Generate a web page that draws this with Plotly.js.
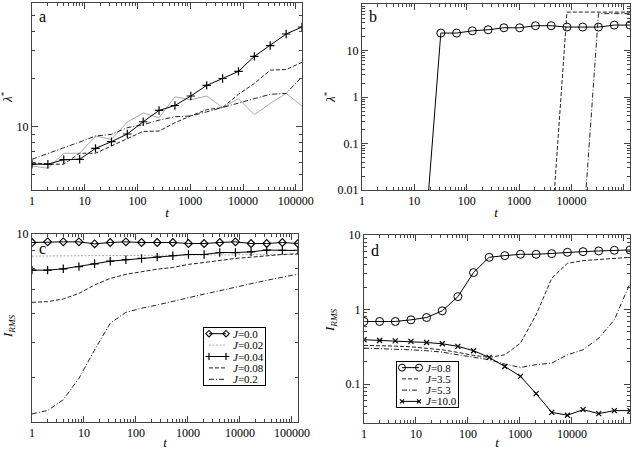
<!DOCTYPE html>
<html>
<head>
<meta charset="utf-8">
<script src="https://cdn.plot.ly/plotly-3.0.1.min.js"></script>
<style>html,body{margin:0;padding:0;background:#fff}#plot{width:638px;height:450px}</style>
</head>
<body>
<div id="plot"></div>
<script>
// time steps (t = 2^k)
const T = [1,2,4,8,16,32,64,128,256,512,1024,2048,4096,8192,16384,32768,65536,131072];

// Panel a: lambda* vs t
const aJ002 = [5.67,5.48,6.81,6.81,8.74,8.33,10.7,12.2,11.4,15.4,14.8,15.6,13.2,15.0,11.9,14.0,16.2,13.5];
const aJ004 = [5.81,5.81,6.21,6.24,7.31,8.05,9.0,10.75,12.66,13.6,15.6,18.2,20.1,22.3,27.7,32.4,38.3,42.4];
const aJ008 = [5.95,5.81,5.81,6.81,6.81,7.57,8.33,9.35,9.39,10.6,11.7,12.8,13.2,16.0,18.7,22.7,22.9,25.4];
const aJ02  = [6.24,6.81,7.38,8.01,8.74,8.95,9.86,10.3,11.0,11.55,11.7,12.4,13.2,14.0,15.0,16.0,16.2,20.6];

// Panel b: lambda* vs t (0.001 = no structure, below axis)
const bJ08  = [0.001,0.001,0.001,0.001,0.001,23.7,23.7,26.5,27.9,30.8,30.8,34.1,34.1,31.9,31.9,31.9,35.2,35.2];
const bJ35  = [0.001,0.001,0.001,0.001,0.001,0.001,0.001,0.001,0.001,0.001,0.001,0.001,0.001,67,67,67,67,67];
const bJ53  = [0.001,0.001,0.001,0.001,0.001,0.001,0.001,0.001,0.001,0.001,0.001,0.001,0.001,0.001,0.001,62,62,62];

// Panel c: I_RMS vs t
const cJ00  = [9.48,9.52,9.52,9.52,9.40,9.48,9.52,9.48,9.48,9.48,9.42,9.42,9.48,9.52,9.42,9.42,9.48,9.42];
const cJ002 = [8.69,8.69,8.69,8.71,8.71,8.71,8.73,8.73,8.74,8.74,8.76,8.76,8.76,8.78,8.78,8.78,8.78,8.78];
const cJ004 = [7.94,7.94,8.01,8.12,8.27,8.41,8.49,8.56,8.63,8.71,8.78,8.78,8.89,8.89,8.93,9.03,9.01,9.01];
const cJ008 = [6.46,6.49,6.60,6.84,7.22,7.53,7.73,7.86,7.99,8.08,8.24,8.34,8.45,8.56,8.63,8.71,8.78,8.82];
const cJ02  = [3.16,3.23,3.46,3.97,4.76,5.65,6.06,6.22,6.35,6.51,6.67,6.81,6.96,7.13,7.28,7.44,7.60,7.74];

// Panel d: I_RMS vs t
const dJ08  = [0.691,0.691,0.691,0.727,0.781,0.96,1.49,3.13,5.02,5.29,5.51,5.51,5.62,5.86,5.98,6.11,6.23,6.30];
const dJ35  = [0.33,0.33,0.323,0.316,0.303,0.288,0.266,0.242,0.228,0.247,0.354,0.848,2.63,4.17,4.53,4.67,4.77,5.02];
const dJ53  = [0.303,0.300,0.294,0.288,0.280,0.268,0.247,0.228,0.212,0.185,0.167,0.182,0.191,0.247,0.288,0.413,0.727,2.25];
const dJ10  = [0.393,0.384,0.380,0.373,0.361,0.347,0.320,0.280,0.228,0.172,0.127,0.0742,0.0417,0.0381,0.0453,0.0401,0.0440,0.0440];

const legendC = ['<i>J</i>=0.0','<i>J</i>=0.02','<i>J</i>=0.04','<i>J</i>=0.08','<i>J</i>=0.2'];
const legendD = ['<i>J</i>=0.8','<i>J</i>=3.5','<i>J</i>=5.3','<i>J</i>=10.0'];

const W = 638, H = 450;
const SERIF = 'Liberation Serif';
const BLACK = '#000', GRAY = '#aaaaaa';

function tr(x, y, xa, ya, line, marker) {
  const t = {x: x, y: y, xaxis: xa, yaxis: ya, type: 'scatter',
    mode: marker ? 'lines+markers' : 'lines', line: line, showlegend: false, hoverinfo: 'skip'};
  if (marker) t.marker = marker;
  return t;
}
const solid = {color: BLACK, width: 1};
const dotted = {color: GRAY, width: 1, dash: '2px,1.5px'};
const dashed = {color: '#222', width: 1, dash: '4px,2px'};
const dashdot = {color: '#222', width: 1, dash: '5px,2px,1px,2px'};
const plus = {symbol: 'cross-thin-open', size: 6, color: BLACK, line: {color: BLACK, width: 1.2}};
const diamond = {symbol: 'diamond-open', size: 6, color: BLACK, line: {color: BLACK, width: 1.1}};
const circ = {symbol: 'circle-open', size: 8, color: BLACK, line: {color: BLACK, width: 1}};
const cross = {symbol: 'x-thin-open', size: 5, color: BLACK, line: {color: BLACK, width: 1.2}};

const cStyles = [[solid, diamond], [dotted, null], [solid, plus], [dashed, null], [dashdot, null]];
const dStyles = [[solid, circ], [dashed, null], [dashdot, null], [solid, cross]];

const data = [
  tr(T, aJ002, 'x', 'y', {color: GRAY, width: 1}),
  tr(T, aJ008, 'x', 'y', dashed),
  tr(T, aJ02, 'x', 'y', dashdot),
  tr(T, aJ004, 'x', 'y', solid, plus),

  tr(T, bJ35, 'x2', 'y2', dashed),
  tr(T, bJ53, 'x2', 'y2', dashdot),
  tr(T, bJ08, 'x2', 'y2', solid, circ),

  tr(T, cJ00, 'x3', 'y3', cStyles[0][0], cStyles[0][1]),
  tr(T, cJ002, 'x3', 'y3', cStyles[1][0]),
  tr(T, cJ004, 'x3', 'y3', cStyles[2][0], cStyles[2][1]),
  tr(T, cJ008, 'x3', 'y3', cStyles[3][0]),
  tr(T, cJ02, 'x3', 'y3', cStyles[4][0]),

  tr(T, dJ08, 'x4', 'y4', dStyles[0][0], dStyles[0][1]),
  tr(T, dJ35, 'x4', 'y4', dStyles[1][0]),
  tr(T, dJ53, 'x4', 'y4', dStyles[2][0]),
  tr(T, dJ10, 'x4', 'y4', dStyles[3][0], dStyles[3][1])
];

// Legend boxes (pixel boxes; drawn on two hidden overlay axes whose units are pixels)
const LC = {l: 204, r: 265, t: 328, b: 385};
const LD = {l: 397, r: 458, t: 362, b: 407};
const annotations = [];
function addLegend(box, xa, ya, labels, styles) {
  const n = labels.length, h = (box.b - box.t) / n;
  labels.forEach(function (lab, i) {
    const yc = box.t + h * (i + 0.5);
    const st = styles[i];
    const t = {x: [box.l + 5, box.l + 22], y: [yc, yc], xaxis: xa, yaxis: ya, type: 'scatter',
      mode: st[1] ? 'lines+markers' : 'lines', line: st[0], showlegend: false, hoverinfo: 'skip'};
    if (st[1]) t.marker = Object.assign({}, st[1], {size: st[1].size - 1});
    data.push(t);
    annotations.push({text: lab, x: box.l + 28, y: yc, xref: xa, yref: ya, xanchor: 'left', yanchor: 'middle',
      showarrow: false, borderpad: 0, font: {family: SERIF, size: 11, color: BLACK}});
  });
}
addLegend(LC, 'x5', 'y5', legendC, cStyles);
addLegend(LD, 'x6', 'y6', legendD, dStyles);

function xd(l, r) { return [l / W, r / W]; }
function yd(t, b) { return [1 - b / H, 1 - t / H]; }
const tickfont = {family: SERIF, size: 12, color: BLACK};
function axis(domain, range, anchor, title, extra) {
  const a = {
    type: 'log', domain: domain, range: range, anchor: anchor,
    showgrid: false, zeroline: false, showline: true, mirror: 'ticks',
    linecolor: '#444', linewidth: 1, ticks: 'inside', ticklen: 6, tickcolor: '#444', tickwidth: 1,
    dtick: 1, exponentformat: 'none', tickfont: tickfont, fixedrange: true,
    minor: {ticks: 'inside', ticklen: 3, tickcolor: '#444', showgrid: false}
  };
  if (title) a.title = {text: title, font: {family: SERIF, size: 13, color: BLACK}, standoff: 0};
  return Object.assign(a, extra || {});
}
function boxAxis(domain, range, anchor) {
  return {domain: domain, range: range, anchor: anchor, showgrid: false, zeroline: false,
    showline: true, mirror: true, linecolor: '#000', linewidth: 1, ticks: '', showticklabels: false, fixedrange: true};
}
const XR = [0, Math.log10(131072)];
const tT = '<i>t</i>';
const lam = '<i>λ</i><sup>*</sup>';
const irms = '<i>I</i><sub><i>RMS</i></sub>';

// y-axis titles placed as rotated annotations at the reference positions
const yTitles = [
  {text: lam, x: 7, y: 97},
  {text: lam, x: 330, y: 97},
  {text: irms, x: 8, y: 327},
  {text: irms, x: 330, y: 321}
].map(a => ({text: a.text, x: a.x / W, y: 1 - a.y / H, xref: 'paper', yref: 'paper', textangle: -90,
  showarrow: false, xanchor: 'center', yanchor: 'middle', font: {family: SERIF, size: 13, color: BLACK}}));

const layout = {
  width: W, height: H, margin: {l: 0, r: 0, t: 0, b: 0},
  paper_bgcolor: '#fff', plot_bgcolor: 'rgba(0,0,0,0)',
  font: {family: SERIF, size: 12, color: BLACK},
  showlegend: false,
  xaxis: axis(xd(32, 302), XR, 'y', tT, {tickformat: 'd'}),
  yaxis: axis(yd(3, 190), [Math.log10(4), Math.log10(60)], 'x'),
  xaxis2: axis(xd(362, 630), XR, 'y2', tT, {tickformat: 'd'}),
  yaxis2: axis(yd(4, 190), [-2, 2], 'x2'),
  xaxis3: axis(xd(32, 298), XR, 'y3', tT, {tickformat: 'd'}),
  yaxis3: axis(yd(234, 422), [Math.log10(3), 1.0005], 'x3'),
  xaxis4: axis(xd(364, 630), XR, 'y4', tT, {tickformat: 'd'}),
  yaxis4: axis(yd(235, 423), [Math.log10(0.03), 1], 'x4'),
  xaxis5: boxAxis(xd(LC.l, LC.r), [LC.l, LC.r], 'y5'),
  yaxis5: boxAxis(yd(LC.t, LC.b), [LC.b, LC.t], 'x5'),
  xaxis6: boxAxis(xd(LD.l, LD.r), [LD.l, LD.r], 'y6'),
  yaxis6: boxAxis(yd(LD.t, LD.b), [LD.b, LD.t], 'x6'),
  annotations: annotations.concat(yTitles).concat([
    {text: 'a', x: 42 / W, y: 1 - 16 / H},
    {text: 'b', x: 373 / W, y: 1 - 16 / H},
    {text: 'c', x: 42 / W, y: 1 - 248 / H},
    {text: 'd', x: 375 / W, y: 1 - 250 / H}
  ].map(a => Object.assign({xref: 'paper', yref: 'paper', showarrow: false, xanchor: 'center', yanchor: 'middle',
    font: {family: SERIF, size: 16, color: BLACK}}, a)))
};

Plotly.newPlot('plot', data, layout, {displayModeBar: false, staticPlot: true});
</script>
</body>
</html>
